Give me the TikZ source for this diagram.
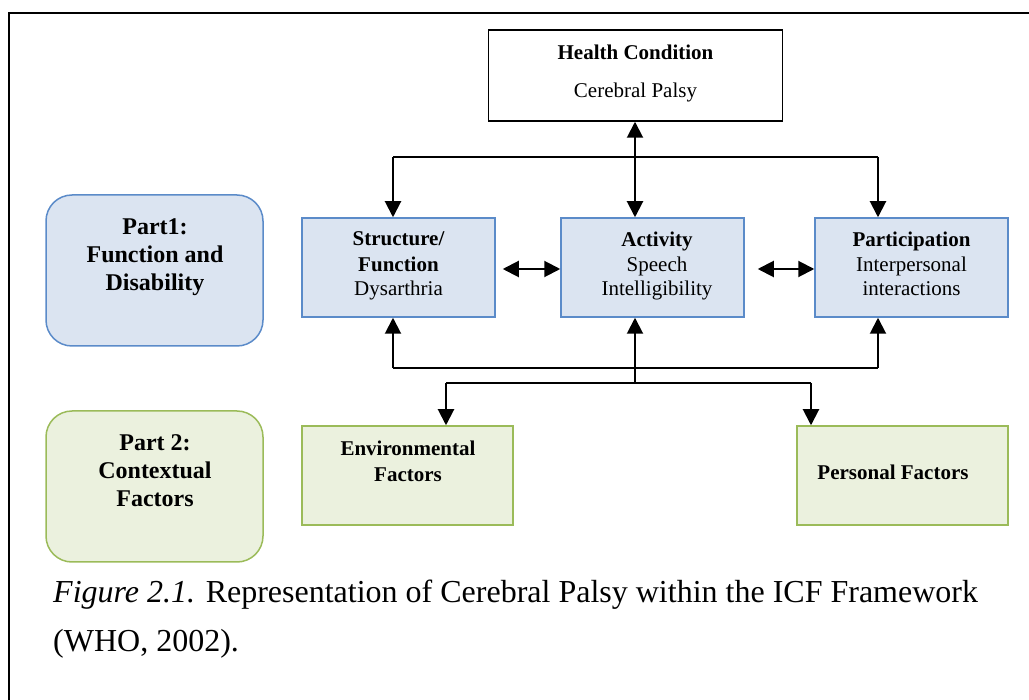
\documentclass[tikz,border=0pt]{standalone}
\usepackage{fontspec}
\setmainfont{Liberation Serif}
\usetikzlibrary{arrows.meta}
\definecolor{bluefill}{RGB}{219,228,241}
\definecolor{blueline}{RGB}{91,139,201}
\definecolor{greenfill}{RGB}{235,241,222}
\definecolor{greenline}{RGB}{155,187,89}
\tikzset{
  box/.style={draw, line width=1.5pt, inner sep=0pt},
  bluebox/.style={box, draw=blueline, fill=bluefill},
  greenbox/.style={box, draw=greenline, fill=greenfill},
  txt/.style={inner sep=0pt, anchor=base, font=\fontsize{21}{24}\selectfont},
  btxt/.style={txt, font=\fontsize{21}{24}\selectfont\bfseries},
  ptxt/.style={inner sep=0pt, anchor=base, font=\fontsize{24}{28}\selectfont\bfseries},
  arr/.style={line width=2pt, -{Triangle[length=16pt,width=16pt]}},
  darr/.style={line width=2pt, {Triangle[length=16pt,width=16pt]}-{Triangle[length=16pt,width=16pt]}},
  ln/.style={line width=2pt},
}
\begin{document}
\begin{tikzpicture}[x=1pt,y=-1pt]
\useasboundingbox (0,0) rectangle (1029,700);
\draw[line width=2.5pt] (9,700) -- (9,13) -- (1029,13);

% boxes
\node[box, fill=white, minimum width=294pt, minimum height=91pt] (hc) at (635.5,75.5) {};
\node[bluebox, minimum width=193pt, minimum height=99pt] (sf) at (398.5,267.5) {};
\node[bluebox, minimum width=183pt, minimum height=99pt] (act) at (652.5,267.5) {};
\node[bluebox, minimum width=193pt, minimum height=99pt] (pa) at (911.5,267.5) {};
\node[greenbox, minimum width=211pt, minimum height=99pt] (env) at (407.5,475.5) {};
\node[greenbox, minimum width=211pt, minimum height=99pt] (pers) at (902.5,475.5) {};
\node[bluebox, rounded corners=26pt, minimum width=217pt, minimum height=151pt] (p1) at (154.5,270.5) {};
\node[greenbox, rounded corners=26pt, minimum width=217pt, minimum height=151pt] (p2) at (154.5,486.5) {};

% texts
\node[btxt] (hc1) at (635.5,60) {Health Condition};
\node[txt] (hc2) at (635.5,98) {Cerebral Palsy};
\node[btxt] (sf1) at (398.5,246) {Structure/};
\node[btxt] (sf2) at (398.5,272) {Function};
\node[txt] (sf3) at (398.5,296) {Dysarthria};
\node[btxt] (ac1) at (657,247) {Activity};
\node[txt] (ac2) at (657,272) {Speech};
\node[txt] (ac3) at (657,296) {Intelligibility};
\node[btxt] (pa1) at (911.5,247) {Participation};
\node[txt] (pa2) at (911.5,272) {Interpersonal};
\node[txt] (pa3) at (911.5,296) {interactions};
\node[btxt] (en1) at (408,456) {Environmental};
\node[btxt] (en2) at (408,482) {Factors};
\node[btxt] (pe1) at (893,480) {Personal Factors};
\node[ptxt] (pt1) at (155,235) {Part1:};
\node[ptxt] (pt2) at (155,263) {Function and};
\node[ptxt] (pt3) at (155,291) {Disability};
\node[ptxt] (pq1) at (155,451) {Part 2:};
\node[ptxt] (pq2) at (155,479) {Contextual};
\node[ptxt] (pq3) at (155,507) {Factors};

% caption
\node[inner sep=0pt, anchor=base west, font=\fontsize{32}{49}\selectfont] (cap1) at (53,602) {\textit{Figure 2.1.} Representation of Cerebral Palsy within the ICF Framework};
\node[inner sep=0pt, anchor=base west, font=\fontsize{32}{49}\selectfont] (cap2) at (53,651) {(WHO, 2002).};

% connectors
\coordinate (tl) at (393,157);
\coordinate (tr) at (878,157);
\coordinate (bl) at (393,368);
\coordinate (br) at (878,368);
\coordinate (bc) at (635,383);
\coordinate (el) at (446,383);
\coordinate (er) at (811,383);

\draw[darr] (hc.south -| bc) -- (bc |- act.north);
\draw[ln] (tl) -- (tr);
\draw[arr] (tl) -- (tl |- sf.north);
\draw[arr] (tr) -- (tr |- pa.north);

\draw[ln] (bl) -- (br);
\draw[arr] (bl) -- (bl |- sf.south);
\draw[arr] (br) -- (br |- pa.south);
\draw[arr] (bc) -- (bc |- act.south);

\draw[ln] (el) -- (er);
\draw[arr] (el) -- (el |- env.north);
\draw[arr] (er) -- (er |- pers.north);

\draw[darr, shorten <=7pt] ([yshift=-1.5pt]sf.east) -- ([yshift=-1.5pt]act.west);
\draw[darr, shorten <=13pt] ([yshift=-1.5pt]act.east) -- ([yshift=-1.5pt]pa.west);
\end{tikzpicture}
\end{document}
